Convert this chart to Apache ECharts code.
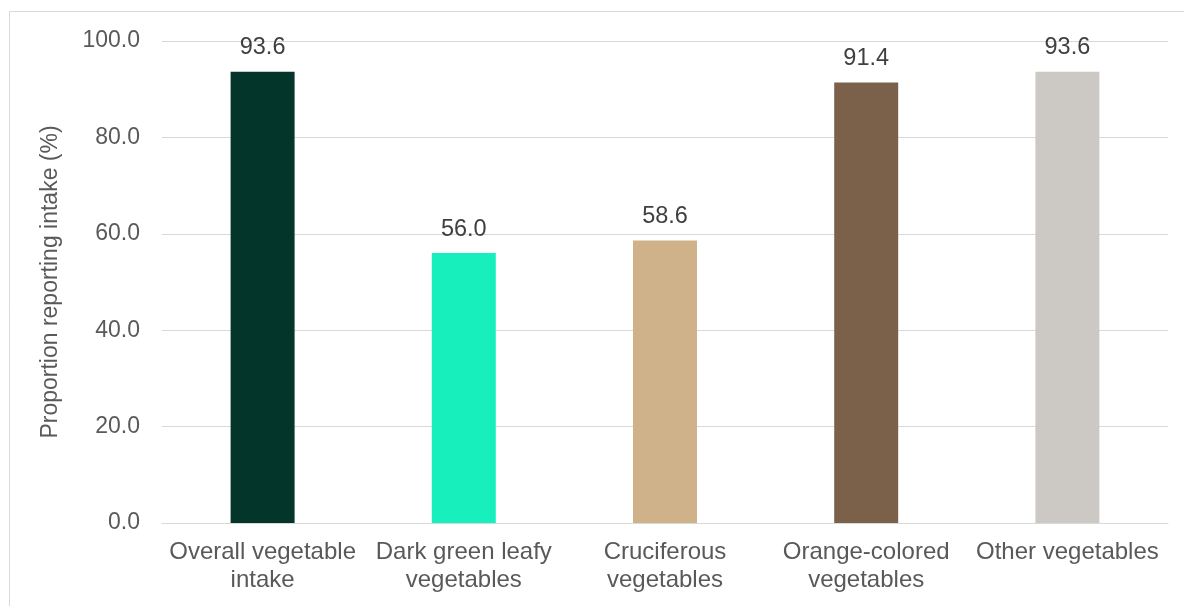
<!DOCTYPE html>
<html>
<head>
<meta charset="utf-8">
<script src="https://cdn.jsdelivr.net/npm/echarts@6/dist/echarts.min.js"></script>
<style>
  html, body { margin: 0; padding: 0; background: #ffffff; }
  #chart { width: 1184px; height: 606px; }
</style>
</head>
<body>
<div id="chart"></div>
<script>
// Vegetable groups and share of respondents reporting intake (%)
const categories = [
  'Overall vegetable\nintake',
  'Dark green leafy\nvegetables',
  'Cruciferous\nvegetables',
  'Orange-colored\nvegetables',
  'Other vegetables'
];
const intakeShare = [93.6, 56.0, 58.6, 91.4, 93.6];
const barColors = ['#03352a', '#17efbc', '#cfb28a', '#7b6149', '#ccc9c5'];
const yTicks = { min: 0, max: 100, interval: 20 };

const FONT = '"Liberation Sans", Arial, sans-serif';

const chart = echarts.init(document.getElementById('chart'), null, { renderer: 'canvas' });

chart.setOption({
  backgroundColor: '#ffffff',
  animation: false,
  graphic: [{
    type: 'rect',
    shape: { x: 9.5, y: 11.5, width: 1400, height: 800 },
    style: { fill: 'none', stroke: '#d9d9d9', lineWidth: 1 },
    silent: true
  }],
  grid: { left: 162, right: 16, top: 41, bottom: 83 },
  xAxis: {
    type: 'category',
    data: categories,
    axisLine: { show: true, lineStyle: { color: '#d9d9d9', width: 1 } },
    axisTick: { show: false },
    axisLabel: {
      color: '#595959',
      fontFamily: FONT,
      fontSize: 24,
      lineHeight: 28,
      margin: 15,
      interval: 0
    }
  },
  yAxis: {
    type: 'value',
    min: yTicks.min,
    max: yTicks.max,
    interval: yTicks.interval,
    name: 'Proportion reporting intake (%)',
    nameLocation: 'middle',
    nameGap: 100,
    nameRotate: 90,
    nameTextStyle: { color: '#595959', fontFamily: FONT, fontSize: 23 },
    axisLine: { show: false },
    axisTick: { show: false },
    splitLine: { lineStyle: { color: '#d9d9d9', width: 1 } },
    axisLabel: {
      color: '#595959',
      fontFamily: FONT,
      fontSize: 23,
      margin: 22,
      formatter: v => v.toFixed(1)
    }
  },
  series: [{
    type: 'bar',
    data: intakeShare.map((v, i) => ({ value: v, itemStyle: { color: barColors[i] } })),
    barWidth: '31.8%',
    label: {
      show: true,
      position: 'top',
      distance: 12,
      color: '#404040',
      fontFamily: FONT,
      fontSize: 23.5,
      formatter: p => p.value.toFixed(1)
    }
  }]
});
</script>
</body>
</html>
